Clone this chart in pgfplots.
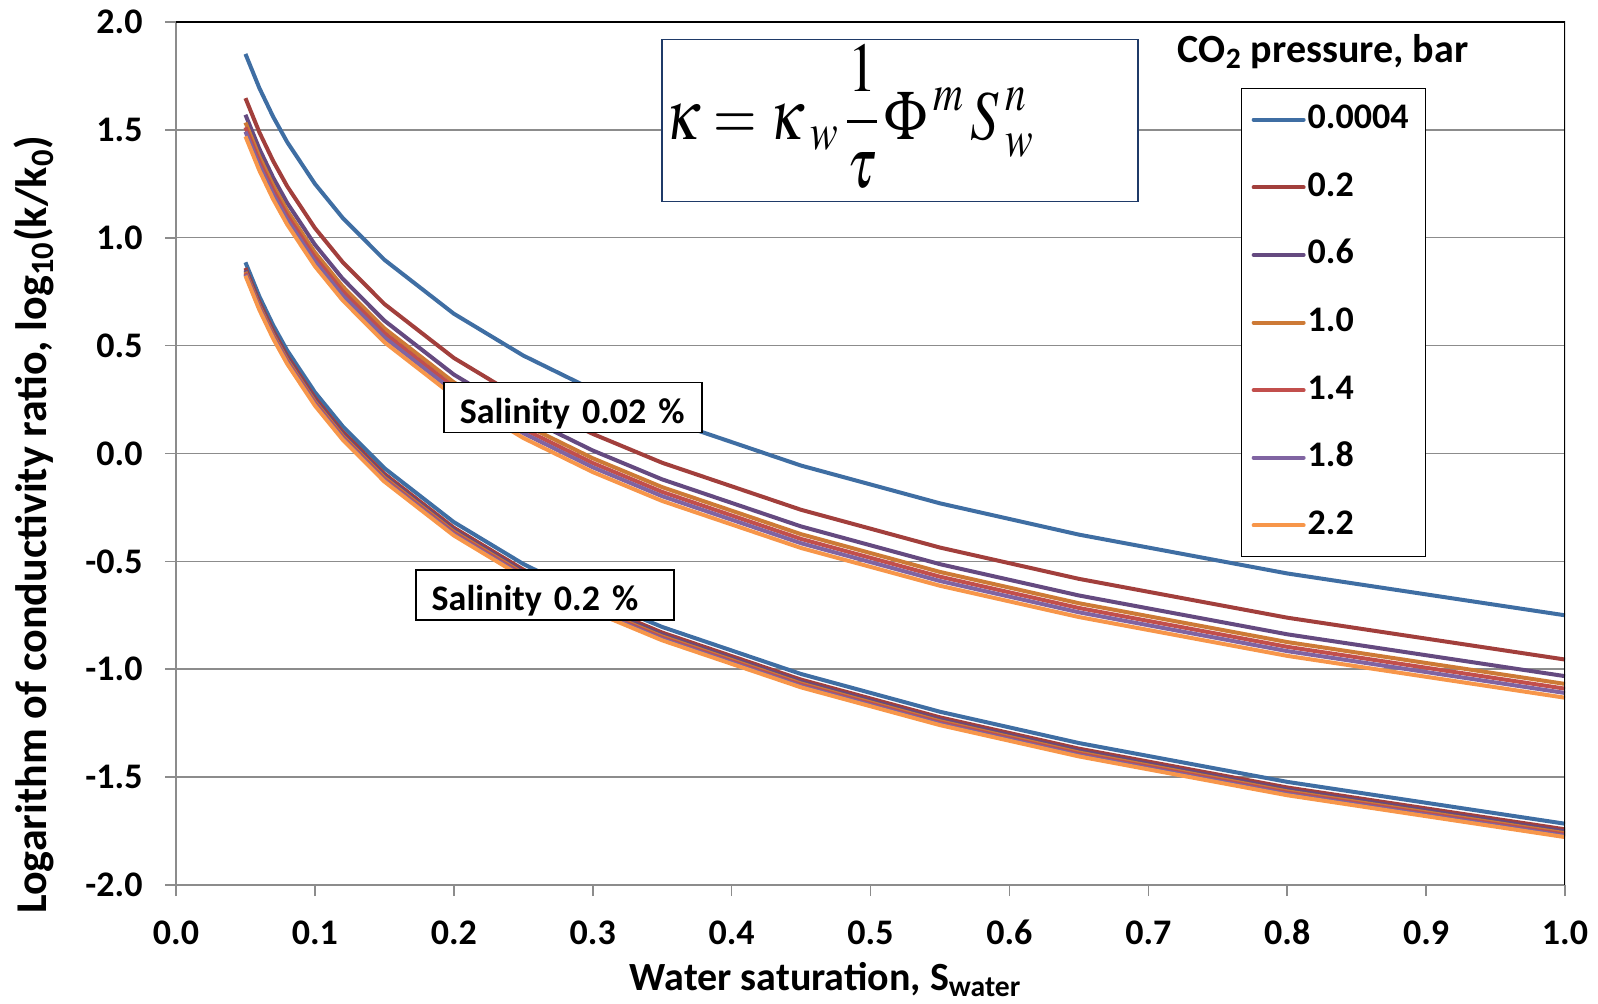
\documentclass[border=0pt]{standalone}
\usepackage{mathptmx}
\usepackage[no-math]{fontspec}
\setmainfont{Carlito}
\usepackage{graphicx}
\usepackage{pgfplots}
\usepackage{pgfplotstable}
\pgfplotsset{compat=1.18}

\definecolor{cA}{HTML}{3F6EA3}
\definecolor{cB}{HTML}{A23F3C}
\definecolor{cC}{HTML}{654A80}
\definecolor{cD}{HTML}{CD7A36}
\definecolor{cE}{HTML}{C24F4C}
\definecolor{cF}{HTML}{8064A2}
\definecolor{cG}{HTML}{F7964A}
\definecolor{gridgray}{HTML}{8C8C8C}
\definecolor{boxblue}{HTML}{1F3A68}

% log10(k/k0) versus water saturation; a* = salinity 0.02 %, b* = salinity 0.2 %
\pgfplotstableread{
x    a1     a2     a3     a4     a5     a6     a7     b1     b2     b3     b4     b5     b6     b7
0.05 1.852  1.647  1.570  1.534  1.512  1.492  1.470  0.886  0.860  0.850  0.842  0.836  0.830  0.824
0.06 1.694  1.489  1.412  1.376  1.354  1.334  1.312  0.728  0.702  0.692  0.684  0.678  0.672  0.666
0.07 1.560  1.355  1.278  1.242  1.220  1.200  1.178  0.594  0.568  0.558  0.550  0.544  0.538  0.532
0.08 1.444  1.239  1.162  1.126  1.104  1.084  1.062  0.478  0.452  0.442  0.434  0.428  0.422  0.416
0.10 1.250  1.045  0.968  0.932  0.910  0.890  0.868  0.284  0.258  0.248  0.240  0.234  0.228  0.222
0.12 1.092  0.887  0.810  0.774  0.752  0.732  0.710  0.126  0.100  0.090  0.082  0.076  0.070  0.064
0.15 0.898  0.693  0.616  0.580  0.558  0.538  0.516  -0.068 -0.094 -0.104 -0.112 -0.118 -0.124 -0.130
0.20 0.648  0.443  0.366  0.330  0.308  0.288  0.266  -0.318 -0.344 -0.354 -0.362 -0.368 -0.374 -0.380
0.25 0.454  0.249  0.172  0.136  0.114  0.094  0.072  -0.512 -0.538 -0.548 -0.556 -0.562 -0.568 -0.574
0.30 0.296  0.091  0.014  -0.022 -0.044 -0.064 -0.086 -0.670 -0.696 -0.706 -0.714 -0.720 -0.726 -0.732
0.35 0.162  -0.043 -0.120 -0.156 -0.178 -0.198 -0.220 -0.804 -0.830 -0.840 -0.848 -0.854 -0.860 -0.866
0.45 -0.056 -0.261 -0.338 -0.374 -0.396 -0.416 -0.438 -1.022 -1.048 -1.058 -1.066 -1.072 -1.078 -1.084
0.55 -0.231 -0.436 -0.513 -0.549 -0.571 -0.591 -0.613 -1.197 -1.223 -1.233 -1.241 -1.247 -1.253 -1.259
0.65 -0.376 -0.581 -0.658 -0.694 -0.716 -0.736 -0.758 -1.342 -1.368 -1.378 -1.386 -1.392 -1.398 -1.404
0.80 -0.556 -0.761 -0.838 -0.874 -0.896 -0.916 -0.938 -1.522 -1.548 -1.558 -1.566 -1.572 -1.578 -1.584
1.00 -0.750 -0.955 -1.032 -1.068 -1.090 -1.110 -1.132 -1.716 -1.742 -1.752 -1.760 -1.766 -1.772 -1.778
}\datatable

\begin{document}
\begin{tikzpicture}
\begin{axis}[
  at={(0,0)}, anchor=south west,
  scale only axis,
  width=694.5pt, height=431.5pt,
  xmin=0, xmax=1, ymin=-2, ymax=2,
  xtick={0,0.1,...,1.0}, ytick={-2,-1.5,...,2},
  /pgf/number format/assume math mode=true,
  /pgf/number format/.cd, fixed, fixed zerofill, precision=1, /pgfplots/.cd,
  tick label style={font=\fontsize{18}{20}\selectfont\bfseries},
  xticklabel style={anchor=base, yshift=-24pt},
  yticklabel style={anchor=east, xshift=-7.7pt},
  tick align=outside,
  major tick length=5.5pt,
  tick style={gridgray, line width=0.8pt},
  axis line style={gridgray, line width=0.9pt},
  axis x line*=bottom, axis y line*=left,
  ymajorgrids,
  major grid style={gridgray, line width=0.75pt},
  every axis x label/.style={at={(axis description cs:0.4677,-0.122)}, anchor=base,
    font=\fontsize{20}{22}\selectfont\bfseries},
  every axis y label/.style={at={(axis description cs:-0.093,0.4175)}, rotate=90, anchor=base,
    font=\fontsize{22}{24}\selectfont\bfseries},
  xlabel={Water saturation, S\textsubscript{water}},
  ylabel={Logarithm of conductivity ratio, log\textsubscript{10}(k/k\textsubscript{0})},
  every axis plot/.append style={line width=2pt, line join=round, no markers},
  legend cell align=left,
  legend image code/.code={\draw[#1, line width=2pt, line cap=round] (0pt,0pt) -- (25pt,0pt);},
  legend style={
    at={(rel axis cs:0.7667,0.9235)}, anchor=north west,
    draw=black, line width=0.7pt,
    font=\fontsize{18}{20}\selectfont\bfseries,
    inner xsep=5pt, inner ysep=7pt,
    row sep=16.8pt,
    nodes={text height=13pt, text depth=4pt, inner ysep=0pt, inner xsep=1pt},
    /tikz/every even column/.append style={text width=53pt},
  },
]
\addplot[cA] table[x=x, y=a1] {\datatable}; \addlegendentry{0.0004}
\addplot[cB] table[x=x, y=a2] {\datatable}; \addlegendentry{0.2}
\addplot[cC] table[x=x, y=a3] {\datatable}; \addlegendentry{0.6}
\addplot[cD] table[x=x, y=a4] {\datatable}; \addlegendentry{1.0}
\addplot[cE] table[x=x, y=a5] {\datatable}; \addlegendentry{1.4}
\addplot[cF] table[x=x, y=a6] {\datatable}; \addlegendentry{1.8}
\addplot[cG] table[x=x, y=a7] {\datatable}; \addlegendentry{2.2}
\addplot[cA, forget plot] table[x=x, y=b1] {\datatable};
\addplot[cB, forget plot] table[x=x, y=b2] {\datatable};
\addplot[cC, forget plot] table[x=x, y=b3] {\datatable};
\addplot[cD, forget plot] table[x=x, y=b4] {\datatable};
\addplot[cE, forget plot] table[x=x, y=b5] {\datatable};
\addplot[cF, forget plot] table[x=x, y=b6] {\datatable};
\addplot[cG, forget plot] table[x=x, y=b7] {\datatable};

% frame on top and right
\draw[black, line width=0.8pt] (rel axis cs:0,1) -- (rel axis cs:1,1) -- (rel axis cs:1,0);

% equation box
\node[draw=boxblue, line width=0.9pt, fill=white, minimum width=238pt, minimum height=81pt]
  (eqbox) at (axis cs:0.5212,1.543) {};
\node[anchor=west, inner sep=0pt] at ([xshift=2pt, yshift=2pt]eqbox.west)
  {\scalebox{0.8}[1]{\fontsize{35}{40}\selectfont$\displaystyle \kappa = \kappa\,{}_{w}\,\frac{1}{\tau}\,\Phi\,{}^{m}\, S\,{}_{w}^{n}$}};

% salinity labels
\tikzset{salbox/.style={draw=black, line width=0.8pt, fill=white, anchor=west, text width=113pt,
  inner xsep=8pt, text height=17pt, text depth=1.4pt, minimum height=25pt, align=left,
  font=\fontsize{18}{20}\selectfont\bfseries}}
\node[salbox] at (axis cs:0.1922,0.213) {Salinity 0.02 \%};
\node[salbox] at (axis cs:0.172,-0.656) {Salinity 0.2 \%};

% legend title
\node[font=\fontsize{20}{22}\selectfont\bfseries] at (axis cs:0.8258,1.863) {CO\textsubscript{2} pressure, bar};
\end{axis}
\pgfresetboundingbox
\path[use as bounding box] (-88pt,-59.5pt) rectangle (711pt,442.5pt);
\end{tikzpicture}
\end{document}
